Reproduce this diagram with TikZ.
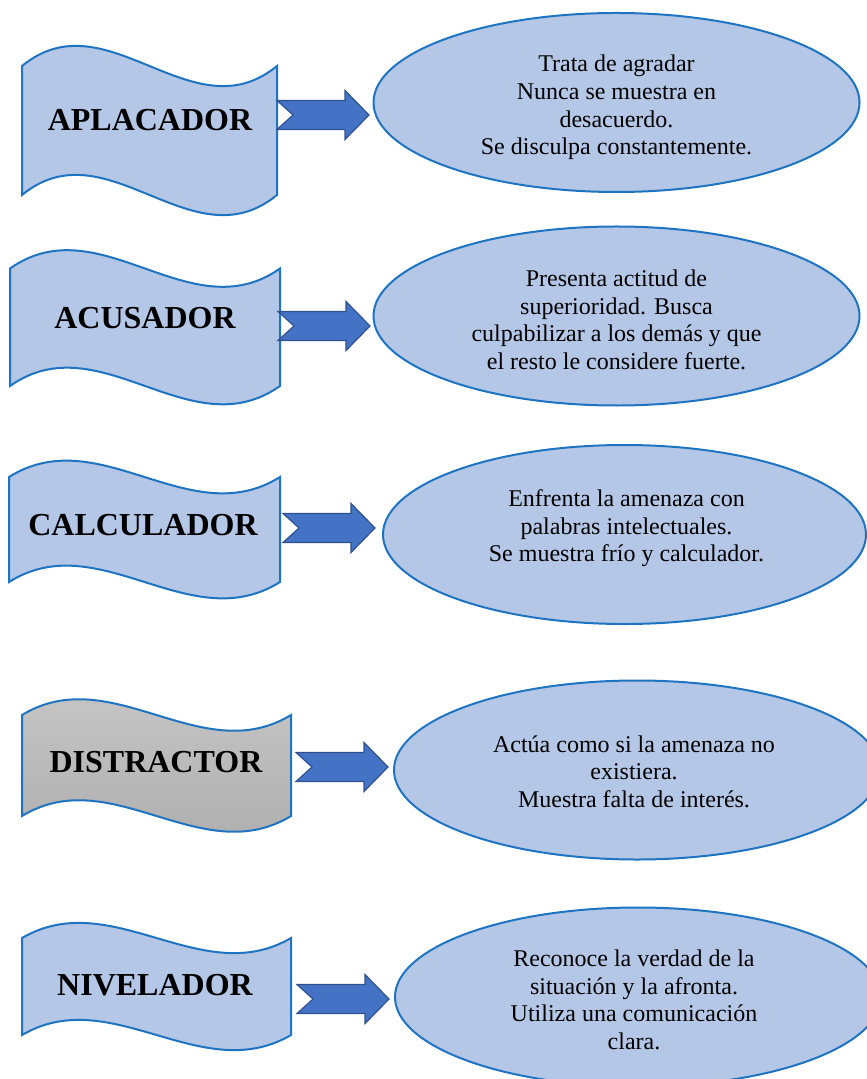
\documentclass[tikz,border=0pt]{standalone}
\usepackage{fontspec}
\setmainfont{Liberation Serif}
\usetikzlibrary{shapes.geometric}

\definecolor{paleblue}{HTML}{B4C7E7}
\definecolor{edgeblue}{HTML}{1F74C1}
\definecolor{arrowblue}{HTML}{4472C4}
\definecolor{arrowedge}{HTML}{2F528F}

% wavy banner: #1 style, #2 left x, #3 top y, #4 right x, #5 bottom y
\newcommand{\wavetape}[5]{%
    \draw[#1] (#2,#3)
        .. controls ({#2+(#4-#2)/3},{#3-0.54*(#5-#3)}) and ({#2+2*(#4-#2)/3},{#3+0.54*(#5-#3)}) .. (#4,#3)
        -- (#4,#5)
        .. controls ({#2+2*(#4-#2)/3},{#5+0.54*(#5-#3)}) and ({#2+(#4-#2)/3},{#5-0.54*(#5-#3)}) .. (#2,#5)
        -- cycle;}

\tikzset{
    waveline/.style={draw=edgeblue,fill=paleblue,line width=1pt,line join=miter},
    title/.style={font=\fontsize{16}{19}\selectfont\bfseries,inner sep=0pt},
    ovalbox/.style={ellipse,draw=edgeblue,fill=paleblue,line width=1pt,
        inner sep=0pt,minimum width=243pt,minimum height=89.5pt},
    ovaltext/.style={align=center,inner sep=0pt,font=\fontsize{12}{13.8}\selectfont},
    blockarrow/.style={fill=arrowblue,draw=arrowedge,line width=0.6pt,line join=miter}
}

\begin{document}
\begin{tikzpicture}[x=0.5pt,y=-0.5pt]
    \useasboundingbox (0,0) rectangle (866,1079);
    % left column
    \wavetape{waveline}{22}{66}{277}{195}
    \wavetape{waveline}{10}{268.5}{280}{386}
    \wavetape{waveline}{9}{477}{280}{582}
    \wavetape{draw=edgeblue,line width=1pt,top color=gray!42,bottom color=gray!66}{22}{715}{291}{816}
    \wavetape{waveline}{22}{938}{291}{1035}
    \node at (150,120) [title] (aplacador) {APLACADOR};
    \node at (145,318) [title] (acusador) {ACUSADOR};
    \node at (143,525) [title] (calculador) {CALCULADOR};
    \node at (156,762) [title] (distractor) {DISTRACTOR};
    \node at (155,985) [title] (nivelador) {NIVELADOR};
    % right column
    \node at (616.5,102.5) [ovalbox] (agradar) {};
    \node at (616.5,316) [ovalbox] (superior) {};
    \node at (624.5,534.5) [ovalbox,minimum width=241.5pt] (frio) {};
    \node at (637,770) [ovalbox] (interes) {};
    \node at (638,997) [ovalbox] (clara) {};
    \node at (agradar) [ovaltext,yshift=-2.5pt] (agradartxt) {Trata de agradar\\Nunca se muestra en\\desacuerdo.\\Se disculpa constantemente.};
    \node at (superior) [ovaltext,yshift=-2pt] (superiortxt) {Presenta actitud de\\superioridad. Busca\\culpabilizar a los demás y que\\el resto le considere fuerte.};
    \node at (frio) [ovaltext,yshift=3pt,xshift=1pt] (friotxt) {Enfrenta la amenaza con\\palabras intelectuales.\\Se muestra frío y calculador.};
    \node at (interes) [ovaltext,yshift=-0.75pt,xshift=-1.5pt] (interestxt) {Actúa como si la amenaza no\\existiera.\\Muestra falta de interés.};
    \node at (clara) [ovaltext,yshift=-1.5pt,xshift=-2pt] (claratxt) {Reconoce la verdad de la\\situación y la afronta.\\Utiliza una comunicación\\clara.};
    % block arrows
    \foreach \x/\y in {277/115,278/326,283/528,296/767,297/999} {
        \draw[blockarrow] (\x,\y) ++(0,-14.5) -- ++(68,0) -- ++(0,-10) -- ++(24,24.5)
            -- ++(-24,24.5) -- ++(0,-10) -- ++(-68,0) -- ++(16,-14.5) -- cycle;
    }
\end{tikzpicture}
\end{document}
